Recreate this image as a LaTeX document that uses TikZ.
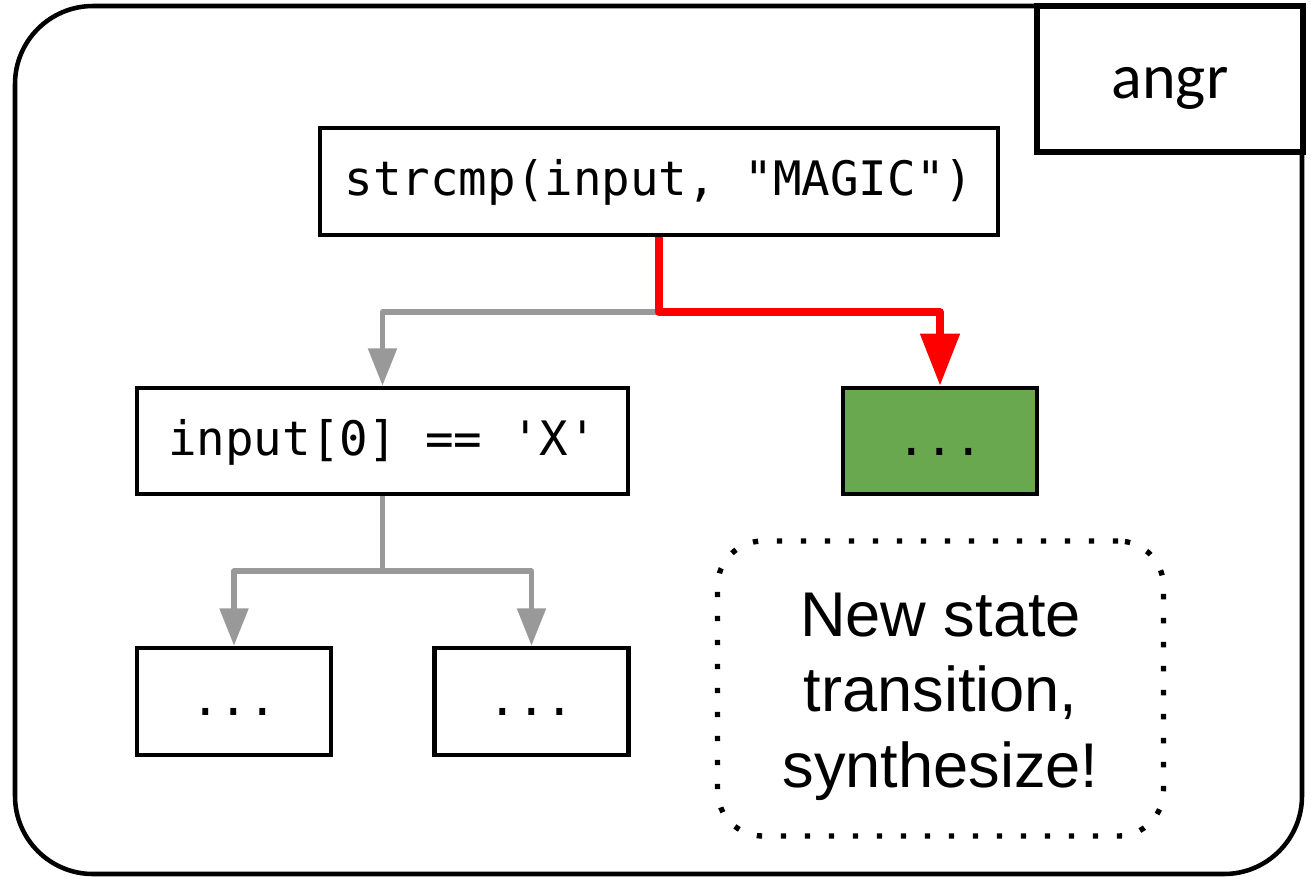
\documentclass[tikz,border=0pt]{standalone}
\usepackage{fontspec}
\setmainfont{Liberation Sans}
\newfontfamily\codefont{DejaVu Sans Mono}
\newfontfamily\angrfont{Carlito}
\usetikzlibrary{arrows.meta}
\definecolor{arrowgray}{HTML}{999999}
\definecolor{okgreen}{HTML}{6AA84F}
\definecolor{pathred}{HTML}{FF0000}
\tikzset{
  codebox/.style={draw=black, line width=3.4pt, inner sep=0pt, fill=white,
    text height=28.5pt, text depth=7.5pt,
    font=\codefont\fontsize{35.6pt}{42pt}\selectfont},
  graylink/.style={draw=arrowgray, line width=4pt, line join=round,
    -{Triangle[width=21pt,length=28pt]}},
  redlink/.style={draw=pathred, line width=5.8pt, line join=round,
    -{Triangle[width=28.5pt,length=39pt]}},
}
\begin{document}
\begin{tikzpicture}[x=0.75pt,y=-0.75pt]
\useasboundingbox (0,0) rectangle (1311,876);
% outer frame
\draw[line width=3.4pt, rounded corners=58.5pt] (15,6) rectangle (1302,874);
% angr label box
\node[draw=black, line width=4pt, fill=white, inner sep=0pt,
  minimum width=266*0.75pt, minimum height=146*0.75pt,
  label={[font=\angrfont\fontsize{48pt}{58pt}\selectfont, yshift=-7pt]center:angr}] (angr) at (1170,79) {};
% code boxes
\node[codebox, minimum width=678*0.75pt, minimum height=107*0.75pt] (strcmp) at (659,181.5) {strcmp(input, "MAGIC")};
\node[codebox, minimum width=491*0.75pt, minimum height=106*0.75pt] (inp) at (382.5,441) {input[0] == 'X'};
\node[codebox, fill=okgreen, minimum width=194*0.75pt, minimum height=106*0.75pt] (green) at (940,441) {...};
\node[codebox, minimum width=194*0.75pt, minimum height=107*0.75pt] (s1) at (234,701.5) {...};
\node[codebox, minimum width=194*0.75pt, minimum height=107*0.75pt] (s2) at (531.5,701.5) {...};
% note
\node[draw=black, line width=4pt, dash pattern=on 4pt off 14pt,
  rounded corners=34pt, inner sep=0pt,
  minimum width=446*0.75pt, minimum height=295*0.75pt,
  label={[align=center, font=\fontsize{47.4pt}{56.6pt}\selectfont, yshift=-6pt]center:New state\\transition,\\synthesize!}] (note) at (940.5,688.5) {};
% junctions
\coordinate (j1) at (659,312);
\coordinate (j2) at (382.5,571);
% connectors
\draw[graylink] (j1) -| (inp.north);
\draw[redlink] (strcmp.south) -- (j1) -| (green.north);
\draw[graylink] (inp.south) -- (j2) -| (s1.north);
\draw[graylink] (j2) -| (s2.north);
\end{tikzpicture}
\end{document}
